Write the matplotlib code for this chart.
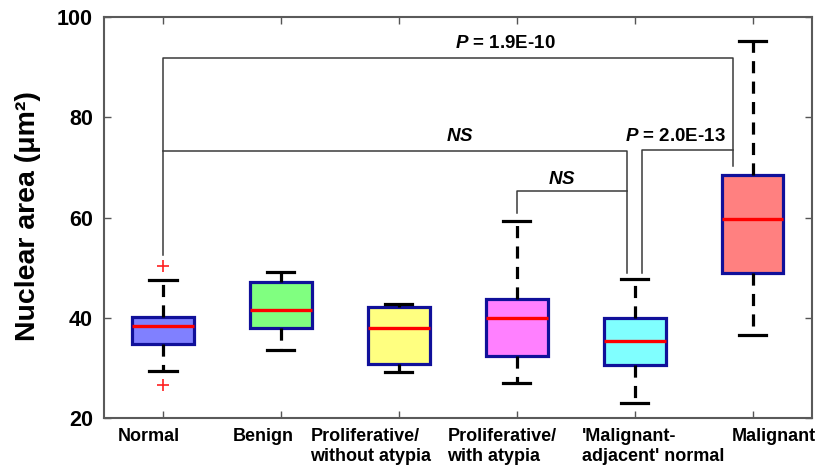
import matplotlib
matplotlib.use("Agg")
import matplotlib.pyplot as plt

plt.rcParams['font.family'] = ['Liberation Sans', 'DejaVu Sans']
plt.rcParams['mathtext.fontset'] = 'custom'
plt.rcParams['mathtext.it'] = 'Liberation Sans:italic:bold'
plt.rcParams['mathtext.rm'] = 'Liberation Sans:bold'
plt.rcParams['mathtext.bf'] = 'Liberation Sans:bold'

# ---- data ----
categories = ["Normal", "Benign", "Proliferative/\nwithout atypia",
              "Proliferative/\nwith atypia", "'Malignant-\nadjacent' normal",
              "Malignant"]
medians = [38.4, 41.6, 37.9, 39.9, 35.4, 59.7]
q1 = [34.7, 37.9, 30.8, 32.4, 30.6, 48.9]
q3 = [40.2, 47.1, 42.2, 43.75, 39.9, 68.4]
whisker_low = [29.4, 33.6, 29.1, 26.9, 22.9, 36.6]
whisker_high = [47.5, 49.1, 42.7, 59.4, 47.7, 95.2]
outliers = [[50.3, 26.5], [], [], [], [], []]
box_colors = ["#8080FF", "#80FF80", "#FFFF80", "#FF80FF", "#80FFFF", "#FF8080"]

p_labels = ["$P$ = 1.9E-10", "$NS$", "$P$ = 2.0E-13", "$NS$"]

yticks = [20, 40, 60, 80, 100]

# ---- figure ----
fig = plt.figure(figsize=(8.25, 4.75), dpi=100)
ax = fig.add_axes([0.126, 0.12, 0.858, 0.844])

positions = list(range(1, len(categories) + 1))
stats = []
for i in range(len(categories)):
    stats.append(dict(med=medians[i], q1=q1[i], q3=q3[i],
                      whislo=whisker_low[i], whishi=whisker_high[i],
                      fliers=outliers[i], label=categories[i]))

bp = ax.bxp(stats, positions=positions, widths=0.52, capwidths=0.23,
            patch_artist=True, showfliers=True,
            boxprops=dict(edgecolor="#10109A", linewidth=2.3),
            whiskerprops=dict(color="black", linewidth=2.3, linestyle=(0, (3.8, 2.6))),
            capprops=dict(color="black", linewidth=2.3),
            medianprops=dict(color="#FF0000", linewidth=2.4),
            flierprops=dict(marker="+", markeredgecolor="#FF2020",
                            markersize=9, markeredgewidth=1.2, linestyle="none"))
for patch, c in zip(bp["boxes"], box_colors):
    patch.set_facecolor(c)
for w in bp["whiskers"]:
    w.set_dash_capstyle("butt")

# ---- brackets ----
lc = "#3a3a3a"
lw = 1.1
# P = 1.9E-10 : Normal vs Malignant
ax.plot([1, 1, 5.83, 5.83], [52.5, 91.9, 91.9, 70.2], color=lc, lw=lw, zorder=1)
# NS : Normal vs Malignant-adjacent
ax.plot([1, 4.93, 4.93], [73.2, 73.2, 48.9], color=lc, lw=lw, zorder=1)
# P = 2.0E-13 : Malignant-adjacent vs Malignant
ax.plot([5.06, 5.06, 5.83], [48.9, 73.5, 73.5], color=lc, lw=lw, zorder=1)
# NS : Proliferative with atypia vs Malignant-adjacent
ax.plot([4, 4, 4.93], [60.9, 65.2, 65.2], color=lc, lw=lw, zorder=1)

tfs = 13.5
ax.text(3.9, 94.8, p_labels[0], ha="center", va="center", fontsize=tfs, fontweight="bold")
ax.text(3.52, 76.2, p_labels[1], ha="center", va="center", fontsize=tfs, fontweight="bold")
ax.text(5.34, 76.2, p_labels[2], ha="center", va="center", fontsize=tfs, fontweight="bold")
ax.text(4.38, 67.5, p_labels[3], ha="center", va="center", fontsize=tfs, fontweight="bold")

# ---- axes ----
ax.set_xlim(0.5, 6.5)
ax.set_ylim(20, 100)
ax.set_yticks(yticks)
ax.set_yticklabels([str(v) for v in yticks], fontsize=15.5, fontweight="bold")
ax.set_xticks(positions)
ax.set_xticklabels([""] * len(positions))
ax.tick_params(direction="in", length=5, width=1, color="#555555",
               top=True, right=True, pad=8)
for s in ax.spines.values():
    s.set_color("#5a5a5a")
    s.set_linewidth(1.5)

# x category labels (left-aligned multi-line, as in reference)
label_offsets = [-0.38, -0.41, -0.75, -0.59, -0.45, -0.18]
for p, lab, off in zip(positions, categories, label_offsets):
    ax.text(p + off, -0.025, lab, transform=ax.get_xaxis_transform(),
            ha="left", va="top", fontsize=13, fontweight="bold",
            linespacing=1.25, multialignment="left")

fig.text(0.034, 0.545, "Nuclear area (μm²)", rotation=90, ha="center",
         va="center", fontsize=20.5, fontweight="bold")

fig.savefig("out.png", dpi=100)
